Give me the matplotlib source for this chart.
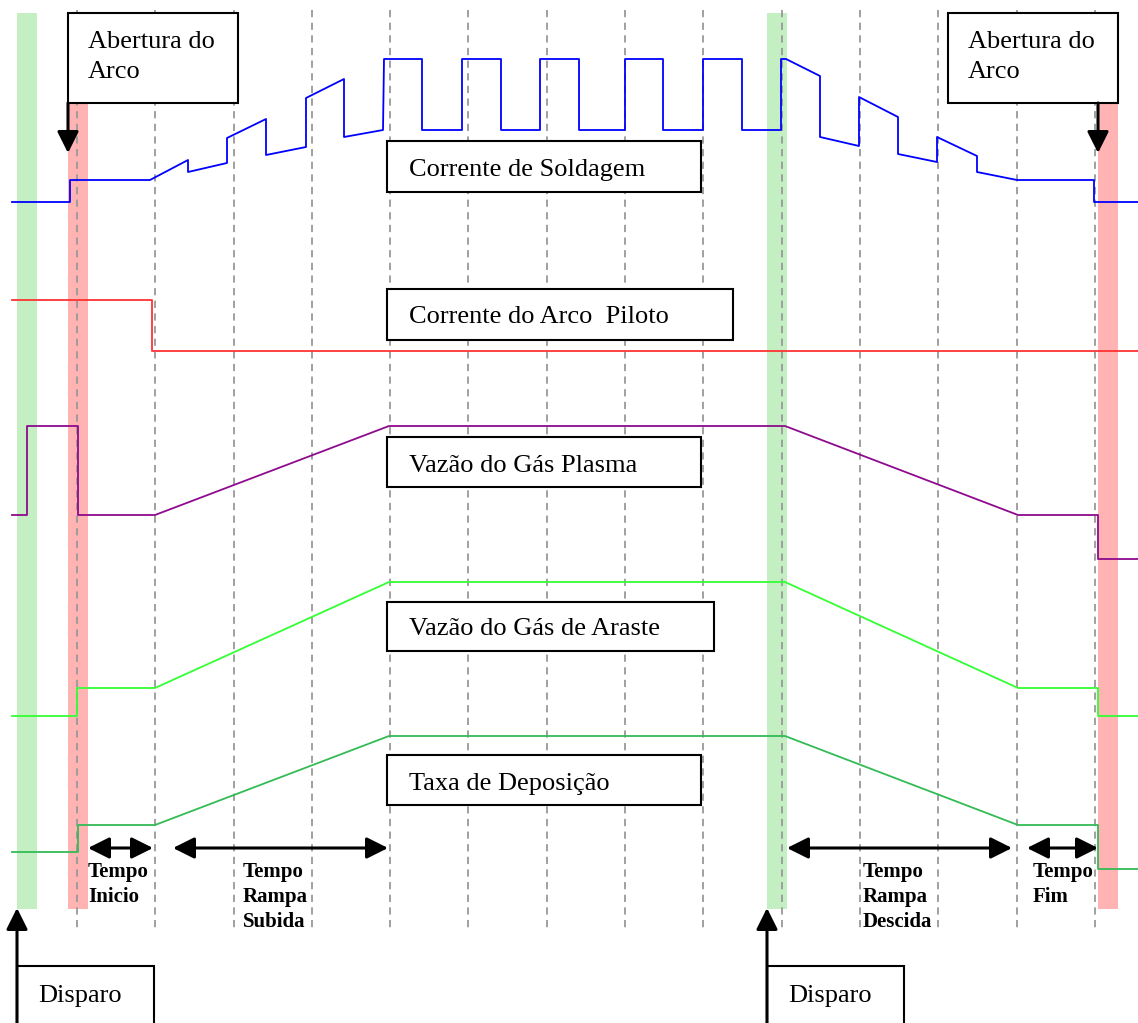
import matplotlib
matplotlib.use("Agg")
import matplotlib.pyplot as plt
from matplotlib.patches import Rectangle, FancyArrowPatch

# sinais (x = tempo em px da figura, y = nivel)
soldagem = [(12, 202), (70, 202), (70, 180), (150, 180), (188, 160), (188, 172),
            (227, 163), (227, 138), (266, 119), (266, 155), (306, 147), (306, 98),
            (344, 79), (344, 137), (383, 130), (384, 59), (422, 59), (422, 130),
            (462, 130), (462, 59), (501, 59), (501, 130), (540, 130), (540, 59),
            (579, 59), (579, 130), (625, 130), (625, 59), (663, 59), (663, 130),
            (703, 130), (703, 59), (742, 59), (742, 130), (781, 130), (781, 59),
            (786, 59), (820, 76), (820, 137), (859, 146), (859, 97), (898, 117),
            (898, 154), (937, 162), (937, 137), (977, 156), (977, 172), (1017, 180),
            (1094, 180), (1094, 202), (1138, 202)]
piloto = [(12, 300), (152, 300), (152, 351), (1138, 351)]
plasma = [(12, 515), (27, 515), (27, 426), (78, 426), (78, 515), (155, 515),
          (389, 426), (785, 426), (1018, 515), (1098, 515), (1098, 559), (1138, 559)]
araste = [(12, 716), (77, 716), (77, 688), (155, 688), (389, 582), (785, 582),
          (1018, 688), (1098, 688), (1098, 716), (1138, 716)]
taxa = [(12, 852), (78, 852), (78, 825), (155, 825), (389, 736), (785, 736),
        (1018, 825), (1098, 825), (1098, 869), (1138, 869)]

sinais = [soldagem, piloto, plasma, araste, taxa]
cores = ["#0000ff", "#ff3333", "#8e0a8e", "#33ff33", "#33bb55"]

rotulos = ["Corrente de Soldagem", "Corrente do Arco  Piloto", "Vazão do Gás Plasma",
           "Vazão do Gás de Araste", "Taxa de Deposição"]
caixas = [(387, 141, 314, 51), (387, 289, 346, 51), (387, 437, 314, 50),
          (387, 602, 327, 49), (387, 755, 314, 50)]
baselines = [176, 323, 472, 635, 790]

grade_x = [77 + 78.3 * k for k in range(14)]

tempos = [(["Tempo", "Inicio"], 88, 153, 88),
          (["Tempo", "Rampa", "Subida"], 173, 388, 243),
          (["Tempo", "Rampa", "Descida"], 787, 1012, 863),
          (["Tempo", "Fim"], 1027, 1098, 1033)]

fig = plt.figure(figsize=(11.38, 10.23), dpi=100)
ax = fig.add_axes([0, 0, 1, 1])
ax.set_xlim(0, 1138)
ax.set_ylim(1023, 0)
ax.axis("off")

serif = "Liberation Serif"
seta = "-|>,head_length=1.0,head_width=0.5"

# faixas de disparo / abertura
for x0 in [17, 767]:
    ax.add_patch(Rectangle((x0, 13), 20, 896, color="#c3efc3", lw=0, zorder=1))
for x0 in [68, 1098]:
    ax.add_patch(Rectangle((x0, 103), 20, 806, color="#ffb3b3", lw=0, zorder=1))

for gx in grade_x:
    ax.plot([gx, gx], [10, 930], color="#999999", lw=1.3, ls=(0, (4, 3)), zorder=2)

for s, c in zip(sinais, cores):
    xs = [p[0] for p in s]
    ys = [p[1] for p in s]
    ax.plot(xs, ys, color=c, lw=1.3, zorder=4)

for txt, (bx, by, bw, bh), yb in zip(rotulos, caixas, baselines):
    ax.add_patch(Rectangle((bx, by), bw, bh, facecolor="white", edgecolor="black",
                           lw=1.5, zorder=5))
    ax.text(409, yb, txt, fontsize=19, family=serif, va="baseline", zorder=6)

# caixas "Abertura do Arco"
for bx, ax_x in [(68, 68), (948, 1098)]:
    ax.add_patch(Rectangle((bx, 13), 170, 90, facecolor="white", edgecolor="black",
                           lw=1.5, zorder=5))
    for i, linha in enumerate(["Abertura do", "Arco"]):
        ax.text(bx + 20, 48 + 30 * i, linha, fontsize=19, family=serif,
                va="baseline", zorder=6)
    ax.add_patch(FancyArrowPatch((ax_x, 103), (ax_x, 153), arrowstyle=seta,
                                 mutation_scale=13, lw=2.2, color="black",
                                 shrinkA=0, shrinkB=0, zorder=7))

# caixas "Disparo"
for bx in [17, 767]:
    ax.add_patch(Rectangle((bx, 966), 137, 70, facecolor="white", edgecolor="black",
                           lw=1.5, zorder=5, clip_on=False))
    ax.text(bx + 21, 1002, "Disparo", fontsize=19, family=serif, va="baseline", zorder=6)
    ax.add_patch(FancyArrowPatch((bx, 1023), (bx, 908), arrowstyle=seta,
                                 mutation_scale=13, lw=2.2, color="black",
                                 shrinkA=0, shrinkB=0, zorder=7))

# intervalos de tempo
for linhas, xa, xb, xt in tempos:
    ax.add_patch(FancyArrowPatch((xa, 848), (xb, 848),
                                 arrowstyle="<|-|>,head_length=1.0,head_width=0.5",
                                 mutation_scale=13, lw=2.2, color="black",
                                 shrinkA=0, shrinkB=0, zorder=7))
    for i, linha in enumerate(linhas):
        ax.text(xt, 877 + 25 * i, linha, fontsize=15, family=serif, weight="bold",
                va="baseline", zorder=6)

fig.savefig("out.png", dpi=100)
